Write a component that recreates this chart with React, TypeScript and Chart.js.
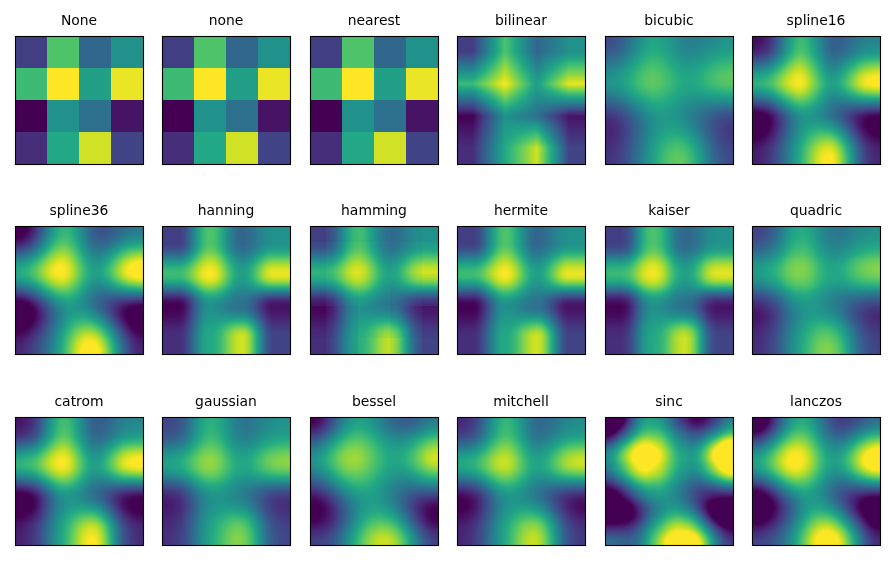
import React, { useEffect, useRef } from "react";
import { Chart, registerables } from "chart.js";

Chart.register(...registerables);

const row0 = [0.18, 0.72, 0.33, 0.5];
const row1 = [0.68, 1.0, 0.56, 0.97];
const row2 = [0.0, 0.5, 0.37, 0.05];
const row3 = [0.13, 0.6, 0.93, 0.2];
const gridRows = [row0, row1, row2, row3];

const methods = [
  "None", "none", "nearest", "bilinear", "bicubic", "spline16",
  "spline36", "hanning", "hamming", "hermite", "kaiser", "quadric",
  "catrom", "gaussian", "bessel", "mitchell", "sinc", "lanczos",
];

const viridisStops = [
  [68, 1, 84], [72, 36, 117], [65, 68, 135], [53, 95, 141], [42, 120, 142], [33, 145, 140],
  [34, 168, 132], [68, 191, 112], [122, 209, 81], [189, 223, 38], [253, 231, 37],
];

const panelLefts = [15, 162, 310, 457, 605, 752];
const panelTops = [36, 226, 417];
const PANEL = 128;
const PAD = 9;

function i0(x: number) {
  let s = 1, t = 1;
  for (let k = 1; k < 40; k++) { t *= (x / (2 * k)) * (x / (2 * k)); s += t; }
  return s;
}
function j1(x: number) {
  let t = x / 2, s = t;
  for (let k = 1; k < 40; k++) { t *= -(x / 2) * (x / 2) / (k * (k + 1)); s += t; }
  return s;
}
const p3 = (x: number) => (x <= 0 ? 0 : x * x * x);

type Kernel = { r: number; f: (x: number) => number };
const kernels: Record<string, Kernel> = {
  bilinear: { r: 1, f: (x) => 1 - x },
  hanning: { r: 1, f: (x) => 0.5 + 0.5 * Math.cos(Math.PI * x) },
  hamming: { r: 1, f: (x) => 0.54 + 0.46 * Math.cos(Math.PI * x) },
  hermite: { r: 1, f: (x) => (2 * x - 3) * x * x + 1 },
  quadric: { r: 1.5, f: (x) => (x < 0.5 ? 0.75 - x * x : x < 1.5 ? 0.5 * (x - 1.5) * (x - 1.5) : 0) },
  bicubic: { r: 2, f: (x) => (p3(x + 2) - 4 * p3(x + 1) + 6 * p3(x) - 4 * p3(x - 1)) / 6 },
  spline16: {
    r: 2,
    f: (x) => (x < 1 ? ((x - 9 / 5) * x - 1 / 5) * x + 1 : ((-1 / 3 * (x - 1) + 4 / 5) * (x - 1) - 7 / 15) * (x - 1)),
  },
  spline36: {
    r: 3,
    f: (x) =>
      x < 1
        ? ((13 / 11 * x - 453 / 209) * x - 3 / 209) * x + 1
        : x < 2
        ? ((-6 / 11 * (x - 1) + 270 / 209) * (x - 1) - 156 / 209) * (x - 1)
        : ((1 / 11 * (x - 2) - 45 / 209) * (x - 2) + 26 / 209) * (x - 2),
  },
  kaiser: { r: 1, f: (x) => i0(6.33 * Math.sqrt(Math.max(0, 1 - x * x))) / i0(6.33) },
  catrom: {
    r: 2,
    f: (x) => (x < 1 ? 0.5 * (2 + x * x * (-5 + x * 3)) : 0.5 * (4 + x * (-8 + x * (5 - x)))),
  },
  gaussian: { r: 2, f: (x) => Math.exp(-2 * x * x) * Math.sqrt(2 / Math.PI) },
  bessel: { r: 3.2383, f: (x) => (x === 0 ? Math.PI / 4 : j1(Math.PI * x) / (2 * x)) },
  mitchell: {
    r: 2,
    f: (x) => {
      const b = 1 / 3, c = 1 / 3;
      return x < 1
        ? (6 - 2 * b) / 6 + x * x * ((-18 + 12 * b + 6 * c) / 6 + x * ((12 - 9 * b - 6 * c) / 6))
        : (8 * b + 24 * c) / 6 + x * ((-12 * b - 48 * c) / 6 + x * ((6 * b + 30 * c) / 6 + x * ((-b - 6 * c) / 6)));
    },
  },
  sinc: { r: 4, f: (x) => (x === 0 ? 1 : Math.sin(Math.PI * x) / (Math.PI * x)) },
  lanczos: {
    r: 4,
    f: (x) => {
      if (x === 0) return 1;
      const a = Math.PI * x, b = a / 4;
      return (Math.sin(a) / a) * (Math.sin(b) / b);
    },
  },
};

const reflect = (i: number, n: number) => {
  const m = ((i % (2 * n)) + 2 * n) % (2 * n);
  return m >= n ? 2 * n - m - 1 : m;
};

function weightsAt(pos: number, method: string, n: number): [number, number][] {
  const k = kernels[method];
  if (!k) return [[Math.max(0, Math.min(n - 1, Math.floor(pos))), 1]];
  const out: [number, number][] = [];
  let sum = 0;
  for (let j = Math.floor(pos - k.r - 1); j <= Math.ceil(pos + k.r + 1); j++) {
    const d = Math.abs(pos - (j + 0.5));
    if (d >= k.r) continue;
    const w = k.f(d);
    sum += w;
    out.push([reflect(j, n), w]);
  }
  return out.map(([i, w]) => [i, w / sum] as [number, number]);
}

function colour(v: number) {
  const t = Math.max(0, Math.min(1, v)) * (viridisStops.length - 1);
  const i = Math.min(viridisStops.length - 2, Math.floor(t));
  const f = t - i;
  return viridisStops[i].map((c, q) => Math.round(c + (viridisStops[i + 1][q] - c) * f));
}

const imagePlugin = {
  id: "resampledImage",
  beforeDatasetsDraw(chart: any) {
    const { ctx, chartArea: a, scales } = chart;
    const method = chart.options.plugins.resampledImage.method;
    const pts = chart.data.datasets[0].data as { x: number; y: number; v: number }[];
    const cells: number[][] = gridRows.map((r) => r.map(() => 0));
    pts.forEach((p) => { cells[Math.floor(p.y)][Math.floor(p.x)] = p.v; });
    const x0 = Math.round(a.left), y0 = Math.round(a.top);
    const w = Math.round(a.right) - x0, h = Math.round(a.bottom) - y0;
    const img = ctx.createImageData(w, h);
    const wx: [number, number][][] = [];
    for (let i = 0; i < w; i++) wx.push(weightsAt(scales.x.getValueForPixel(x0 + i + 0.5), method, 4));
    const wy: [number, number][][] = [];
    for (let i = 0; i < h; i++) wy.push(weightsAt(scales.y.getValueForPixel(y0 + i + 0.5), method, 4));
    for (let py = 0; py < h; py++) {
      for (let px = 0; px < w; px++) {
        let v = 0;
        for (const [jy, ay] of wy[py]) for (const [jx, ax] of wx[px]) v += ay * ax * cells[jy][jx];
        const c = colour(v);
        const o = (py * w + px) * 4;
        img.data[o] = c[0]; img.data[o + 1] = c[1]; img.data[o + 2] = c[2]; img.data[o + 3] = 255;
      }
    }
    ctx.putImageData(img, x0, y0);
  },
  afterDraw(chart: any) {
    const { ctx, chartArea: a } = chart;
    ctx.save();
    ctx.strokeStyle = "#000";
    ctx.lineWidth = 1.11;
    ctx.strokeRect(a.left + 0.5, a.top + 0.5, a.right - a.left, a.bottom - a.top);
    ctx.restore();
  },
};

function Panel({ method, left, top }: { method: string; left: number; top: number }) {
  const ref = useRef<HTMLCanvasElement>(null);
  useEffect(() => {
    const data = gridRows.flatMap((r, y) => r.map((v, x) => ({ x: x + 0.5, y: y + 0.5, v })));
    const chart = new Chart(ref.current!, {
      type: "scatter",
      data: { datasets: [{ data, pointRadius: 0, pointHoverRadius: 0 }] },
      plugins: [imagePlugin],
      options: {
        animation: false,
        responsive: false,
        events: [],
        layout: { padding: { left: PAD, right: PAD, top: 0, bottom: PAD } },
        scales: {
          x: { type: "linear", min: 0, max: 4, display: false },
          y: { type: "linear", min: 0, max: 4, reverse: true, display: false },
        },
        plugins: {
          legend: { display: false },
          tooltip: { enabled: false },
          resampledImage: { method },
          title: {
            display: true,
            text: method,
            color: "#000",
            font: { family: "DejaVu Sans", size: 13.9, weight: "normal", lineHeight: 1.2 },
            padding: { top: 13, bottom: 6.32 },
          },
        } as any,
      },
    } as any);
    return () => chart.destroy();
  }, [method]);
  return (
    <canvas
      ref={ref}
      width={PANEL + 2 * PAD}
      height={36 + PANEL + PAD}
      style={{ position: "absolute", left: left - PAD, top: top - 36, display: "block" }}
    />
  );
}

export default function App() {
  return (
    <div style={{ position: "absolute", left: 0, top: 0, width: 892, height: 565, background: "#fff", overflow: "hidden" }}>
      {methods.map((m, i) => (
        <Panel key={m} method={m} left={panelLefts[i % 6]} top={panelTops[Math.floor(i / 6)]} />
      ))}
    </div>
  );
}
